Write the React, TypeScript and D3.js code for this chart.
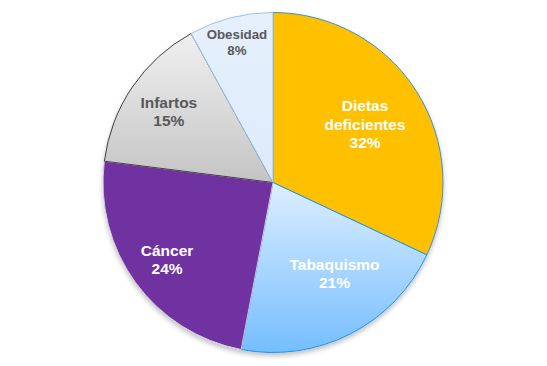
import * as d3 from "d3";

// causes of death, clockwise from 12 o'clock
const names = ["Dietas deficientes", "Tabaquismo", "Cáncer", "Infartos", "Obesidad"];
const shares = [32, 21, 24, 15, 8];
const labelLines = [["Dietas", "deficientes"], ["Tabaquismo"], ["Cáncer"], ["Infartos"], ["Obesidad"]];

// per-slice look
const fillTop = ["#FFC000", "#DDEEFF", "#7030A0", "#F0F0F0", "#E6F0FC"];
const fillBottom = ["#FFC000", "#75BEFF", "#7030A0", "#C4C4C4", "#DDEAFA"];
const strokes = ["#3A8FD0", "#1C95F0", "#D0C8D8", "#404040", "#9DC3E6"];
const textColors = ["#FFFFFF", "#FFFFFF", "#FFFFFF", "#595959", "#595959"];
const fontSizes = [15.5, 15.5, 15.5, 15.5, 13.3];
const labelRadius = [109, 110, 131, 126, 145];
const labelAngleShift = [0, -7, 0, 0, 0];

export default function App() {
  const width = 547;
  const height = 366;
  const cx = 273;
  const cy = 182.5;
  const r = 170;

  const pie = d3.pie<number>().sort(null).value((d) => d)(shares);
  const arc = d3.arc<d3.PieArcDatum<number>>().innerRadius(0).outerRadius(r);

  return (
    <svg
      width={width}
      height={height}
      style={{ position: "absolute", left: 0, top: 0, background: "#fff" }}
      fontFamily="'Liberation Sans', Arial, sans-serif"
      fontWeight="bold"
    >
      <defs>
        {pie.map((p, i) => (
          <linearGradient key={i} id={`g${i}`} x1="0" y1="0" x2="0" y2="1">
            <stop offset="0" stopColor={fillTop[i]} />
            <stop offset="1" stopColor={fillBottom[i]} />
          </linearGradient>
        ))}
        <filter id="shadow" x="-10%" y="-10%" width="120%" height="125%">
          <feGaussianBlur in="SourceAlpha" stdDeviation="2.5" />
          <feOffset dx="0" dy="3" result="b" />
          <feComponentTransfer>
            <feFuncA type="linear" slope="0.25" />
          </feComponentTransfer>
          <feMerge>
            <feMergeNode />
            <feMergeNode in="SourceGraphic" />
          </feMerge>
        </filter>
      </defs>
      <g transform={`translate(${cx},${cy})`}>
        <g filter="url(#shadow)">
          {pie.map((p, i) => (
            <path key={i} d={arc(p) ?? ""} fill={`url(#g${i})`} stroke={strokes[i]} strokeWidth={1} />
          ))}
        </g>
        {pie.map((p, i) => {
          const a = (p.startAngle + p.endAngle) / 2 + (labelAngleShift[i] * Math.PI) / 180;
          const x = labelRadius[i] * Math.sin(a);
          const y = -labelRadius[i] * Math.cos(a);
          const lines = [...labelLines[i], `${shares[i]}%`];
          const fs = fontSizes[i];
          const lh = fs * 1.2;
          const y0 = y - ((lines.length - 1) * lh) / 2;
          return (
            <text key={names[i]} x={x} textAnchor="middle" fill={textColors[i]} fontSize={fs}>
              {lines.map((t, j) => (
                <tspan key={j} x={x} y={y0 + j * lh} dy="0.35em">
                  {t}
                </tspan>
              ))}
            </text>
          );
        })}
      </g>
    </svg>
  );
}
